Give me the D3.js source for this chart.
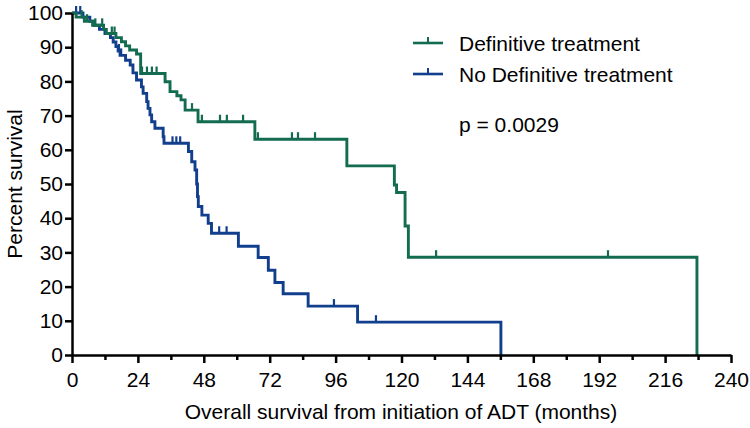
<!DOCTYPE html>
<html>
<head>
<meta charset="utf-8">
<script src="https://cdn.jsdelivr.net/npm/d3@7"></script>
<style>
  html, body { margin: 0; padding: 0; background: #fff; }
  svg { display: block; font-family: "Liberation Sans", Arial, sans-serif; }
</style>
</head>
<body>
<svg id="chart" width="750" height="428"></svg>
<script>
// ---- Data ----
const seriesNames = ["Definitive treatment", "No Definitive treatment"];

// Definitive treatment: event times (months) and survival (%) after each step
const defTimes = [1.5, 4.5, 7.5, 11.5, 12.5, 16, 18, 19.5, 21, 23.5, 25, 33.9, 35.7, 38.2, 39.7, 41.2, 45.9, 66.6, 100.1, 117.4, 118.2, 121.3, 122.5, 227.6];
const defSurv  = [98.8, 97.6, 96.4, 95.2, 94.0, 92.8, 91.6, 90.4, 89.2, 88.0, 82.3, 79.9, 77.0, 75.8, 74.6, 71.6, 68.2, 63.1, 55.3, 49.7, 47.5, 37.7, 28.6, 0];
const defCensor = [3.5, 5.5, 8.5, 11.0, 14.5, 15.5, 25.5, 27.3, 29.1, 30.8, 43.7, 47.3, 53.9, 56.4, 62.3, 67.7, 80.1, 82.3, 88.5, 132.6, 195.2];

// No definitive treatment
const noDefTimes = [4, 6.5, 8, 10, 12, 14, 15, 16, 16.8, 17.5, 19.5, 21.2, 22.2, 23.5, 25.3, 25.9, 27.2, 27.7, 28.4, 29.0, 30.2, 33.2, 33.5, 42.4, 43.6, 44.8, 45.4, 45.7, 46.0, 47.3, 49.6, 50.8, 60.6, 67.8, 71.5, 73.9, 76.9, 86.0, 104.0, 156.2];
const noDefSurv  = [98.8, 97.6, 96.4, 95.2, 94.0, 92.8, 91.5, 90.2, 88.9, 87.6, 86.2, 84.8, 82.5, 80.4, 78.4, 76.5, 74.1, 72.1, 70.2, 68.2, 66.3, 63.8, 61.9, 59.5, 56.5, 54.1, 50.0, 46.3, 43.4, 40.9, 38.5, 35.6, 31.8, 28.5, 24.8, 21.2, 17.9, 14.3, 9.6, 0];
const noDefCensor = [1.5, 3.0, 17.1, 17.9, 36.6, 38.0, 39.4, 53.6, 56.3, 95.4, 110.7];

const xTicks = [0, 24, 48, 72, 96, 120, 144, 168, 192, 216, 240];
const xMinorTicks = [12, 36, 60, 84, 108, 132, 156, 180, 204, 228];
const yTicks = [0, 10, 20, 30, 40, 50, 60, 70, 80, 90, 100];
const pText = "p = 0.0029";
const xTitle = "Overall survival from initiation of ADT (months)";
const yTitle = "Percent survival";

// ---- Drawing ----
const green = "#136b50";
const blue = "#123f8d";
const svg = d3.select("#chart");

const x = d3.scaleLinear().domain([0, 240]).range([72, 731]);
const y = d3.scaleLinear().domain([0, 100]).range([355, 13]);

function stepPoints(times, surv) {
  const pts = [[0, 100]];
  times.forEach((t, i) => pts.push([t, surv[i]]));
  return pts;
}
function survAt(times, surv, c) {
  let s = 100;
  for (let i = 0; i < times.length; i++) if (times[i] <= c) s = surv[i];
  return s;
}

const line = d3.line().x(d => x(d[0])).y(d => y(d[1])).curve(d3.curveStepAfter);

const series = [
  { times: noDefTimes, surv: noDefSurv, censor: noDefCensor, color: blue },
  { times: defTimes, surv: defSurv, censor: defCensor, color: green }
];

series.forEach(s => {
  const g = svg.append("g");
  g.append("path")
    .attr("d", line(stepPoints(s.times, s.surv)))
    .attr("fill", "none")
    .attr("stroke", s.color)
    .attr("stroke-width", 2.9)
    .attr("stroke-linejoin", "miter");
  g.selectAll("line.censor").data(s.censor).join("line")
    .attr("class", "censor")
    .attr("x1", c => x(c)).attr("x2", c => x(c))
    .attr("y1", c => y(survAt(s.times, s.surv, c)))
    .attr("y2", c => y(survAt(s.times, s.surv, c)) - 7)
    .attr("stroke", s.color)
    .attr("stroke-width", 2.2);
});

// Axes
const yAxis = d3.axisLeft(y).tickValues(yTicks).tickSize(7).tickSizeOuter(0).tickPadding(2);
const yG = svg.append("g").attr("transform", "translate(72,0)").call(yAxis);

const xAxis = d3.axisBottom(x).tickValues(xTicks).tickSize(8).tickSizeOuter(0).tickPadding(9);
const xG = svg.append("g").attr("transform", "translate(0,355)").call(xAxis);
const xMinor = d3.axisBottom(x).tickValues(xMinorTicks).tickSize(5).tickSizeOuter(0).tickFormat("");
const xmG = svg.append("g").attr("transform", "translate(0,355)").call(xMinor);
xmG.select(".domain").remove();

[yG, xG, xmG].forEach(g => {
  g.selectAll(".domain").attr("stroke", "#000").attr("stroke-width", 2.5);
  g.selectAll(".tick line").attr("stroke", "#000").attr("stroke-width", 2.5);
  g.selectAll(".tick text").attr("fill", "#000").style("font-size", "21px")
    .style("font-family", '"Liberation Sans", Arial, sans-serif');
});

// Axis titles
svg.append("text")
  .attr("x", 401).attr("y", 419)
  .attr("text-anchor", "middle")
  .style("font-size", "21px")
  .text(xTitle);
svg.append("text")
  .attr("transform", "translate(22,184) rotate(-90)")
  .attr("text-anchor", "middle")
  .style("font-size", "21px")
  .text(yTitle);

// Legend
const legend = svg.append("g");
[{ name: seriesNames[0], color: green, yy: 43 }, { name: seriesNames[1], color: blue, yy: 74 }].forEach(d => {
  legend.append("line").attr("x1", 413).attr("x2", 443).attr("y1", d.yy).attr("y2", d.yy)
    .attr("stroke", d.color).attr("stroke-width", 2.6);
  legend.append("line").attr("x1", 428).attr("x2", 428).attr("y1", d.yy).attr("y2", d.yy - 6)
    .attr("stroke", d.color).attr("stroke-width", 2);
  legend.append("text").attr("x", 459).attr("y", d.yy + 8)
    .style("font-size", "21px").attr("fill", "#000").text(d.name);
});
svg.append("text").attr("x", 459).attr("y", 132)
  .style("font-size", "21px").attr("fill", "#000").text(pText);
</script>
</body>
</html>
